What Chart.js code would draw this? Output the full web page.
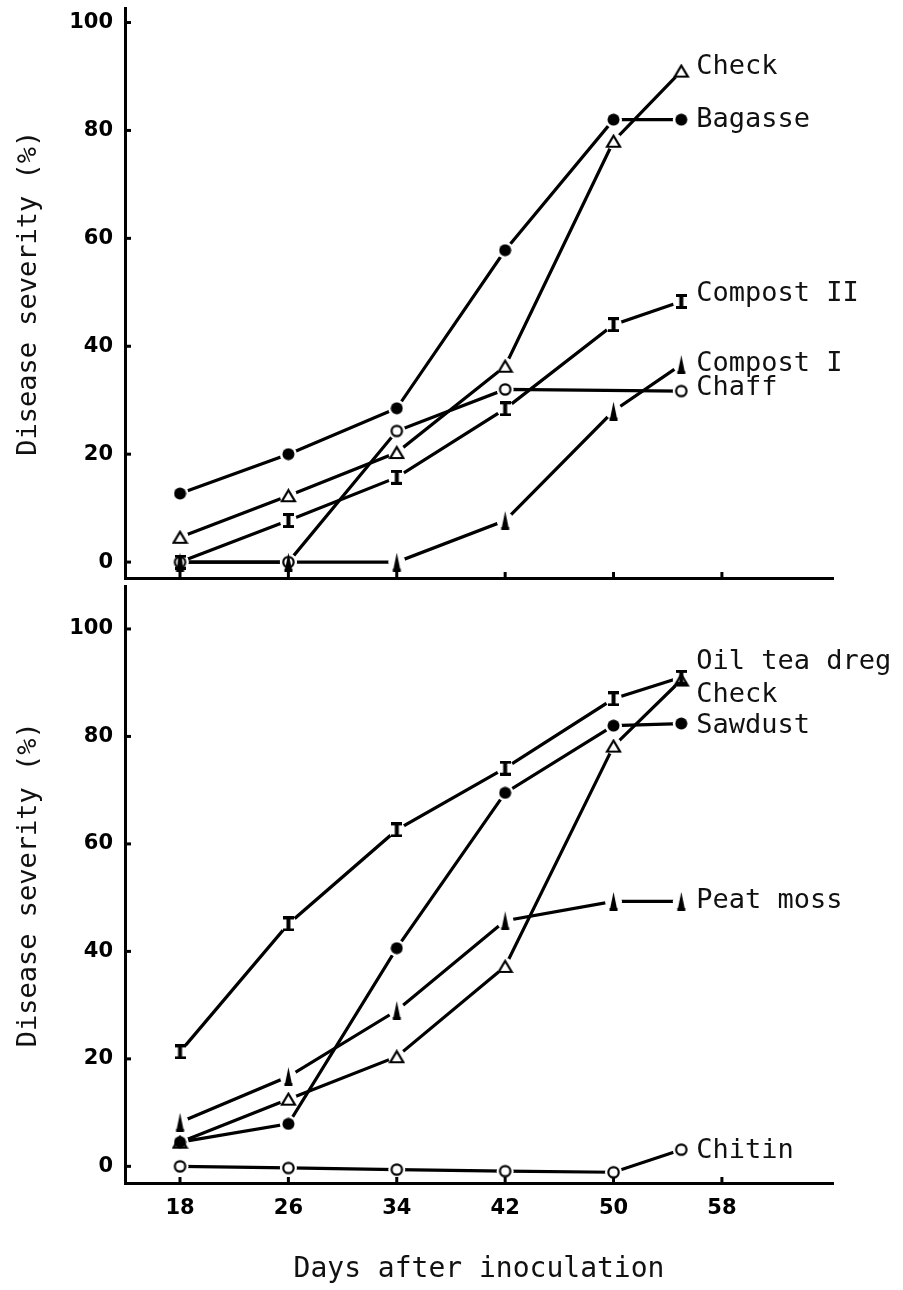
<!DOCTYPE html>
<html>
<head>
<meta charset="utf-8">
<script src="https://cdn.jsdelivr.net/npm/chart.js@4.4.1/dist/chart.umd.min.js"></script>
<style>
  html, body { margin: 0; padding: 0; background: #fff; }
  #wrap { position: relative; width: 903px; height: 1290px; }
  #topChart { position: absolute; left: 0; top: 0; }
  #bottomChart { position: absolute; left: 0; top: 578px; }
</style>
</head>
<body>
<div id="wrap">
  <canvas id="topChart" width="903" height="600"></canvas>
  <canvas id="bottomChart" width="903" height="712"></canvas>
</div>
<script>
// Days after inoculation (sampling days) and axis ticks
const days = [18, 26, 34, 42, 50, 55];
const dayTicks = [18, 26, 34, 42, 50, 58];
const severityTicks = [0, 20, 40, 60, 80, 100];

// Upper panel: disease severity (%)
const topNames = ['Check', 'Bagasse', 'Compost II', 'Compost I', 'Chaff'];
const topCheck = [4.6, 12.3, 20.3, 36.3, 78, 91];
const bagasse = [12.7, 20, 28.5, 57.8, 82, 82];
const compostII = [0, 7.7, 15.7, 28.4, 44, 48.3];
const compostI = [0, 0, 0, 7.7, 28, 36.6];
const chaff = [0, 0, 24.3, 32, null, 31.7];

// Lower panel: disease severity (%)
const bottomNames = ['Oil tea dreg', 'Check', 'Sawdust', 'Peat moss', 'Chitin'];
const oilTeaDreg = [21.3, 45.1, 62.6, 74.1, 87, 91];
const bottomCheck = [4.5, 12.5, 20.4, 37.2, 78.2, 90.5];
const sawdust = [4.5, 7.9, 40.6, 69.5, 82, 82.4];
const peatMoss = [8.2, 16.7, 29, 45.7, 49.3, 49.3];
const chitin = [0, -0.3, -0.6, -0.9, -1.1, 3.1];

// marker glyphs drawn once on small canvases
function makeMarker(kind) {
  const c = document.createElement('canvas');
  const size = { dot: [13, 13], ring: [15, 15], tri: [17, 15], ibeam: [11, 15], spike: [11, 19] }[kind];
  c.width = size[0];
  c.height = size[1];
  const g = c.getContext('2d');
  g.fillStyle = '#000';
  g.strokeStyle = '#000';
  if (kind === 'dot') {
    g.beginPath(); g.arc(6.5, 6.5, 6, 0, Math.PI * 2); g.fill();
  } else if (kind === 'ring') {
    g.lineWidth = 2.2;
    g.beginPath(); g.arc(7.5, 7.5, 5.2, 0, Math.PI * 2); g.stroke();
  } else if (kind === 'tri') {
    g.lineWidth = 2.2;
    g.beginPath(); g.moveTo(8.5, 2); g.lineTo(15, 13); g.lineTo(2, 13); g.closePath(); g.stroke();
  } else if (kind === 'ibeam') {
    g.fillRect(0, 0, 11, 3); g.fillRect(0, 12, 11, 3); g.fillRect(3.5, 0, 4, 15);
  } else if (kind === 'spike') {
    g.beginPath(); g.moveTo(5.5, 0); g.lineTo(9, 17); g.lineTo(2, 17); g.closePath(); g.fill();
    g.fillRect(1.5, 16, 8, 3);
  }
  return c;
}
const markers = {};
['dot', 'ring', 'tri', 'ibeam', 'spike'].forEach(k => { markers[k] = makeMarker(k); });

// series -> line, white halo (gap around marks), marker
function buildDatasets(names, valueLists, markerKinds, nudges) {
  const out = [];
  names.forEach((name, i) => {
    const pts = days.map((d, j) => ({ x: d, y: valueLists[i][j] })).filter(p => p.y !== null);
    out.push({
      label: name, data: pts, borderColor: '#000', borderWidth: 3.2,
      pointRadius: 0, tension: 0, fill: false, order: 3,
      endLabel: name, labelNudge: nudges[i],
    });
    out.push({
      data: pts, showLine: false, pointStyle: 'circle', pointRadius: 8.5,
      pointBackgroundColor: '#fff', pointBorderWidth: 0, order: 2,
    });
    out.push({
      data: pts, showLine: false, pointStyle: markers[markerKinds[i]],
      pointRadius: 5, order: 1,
    });
  });
  return out;
}

// inward tick stubs + labels at line ends
const decorPlugin = {
  id: 'decor',
  afterDatasetsDraw(chart) {
    const ctx = chart.ctx;
    const xs = chart.scales.x, ys = chart.scales.y;
    ctx.save();
    ctx.strokeStyle = '#000';
    ctx.lineWidth = 3;
    xs.ticks.forEach(t => {
      const px = xs.getPixelForValue(t.value);
      ctx.beginPath(); ctx.moveTo(px, xs.top); ctx.lineTo(px, xs.top - 6); ctx.stroke();
    });
    ys.ticks.forEach(t => {
      const py = ys.getPixelForValue(t.value);
      ctx.beginPath(); ctx.moveTo(ys.right, py); ctx.lineTo(ys.right + 6, py); ctx.stroke();
    });
    ctx.font = '27px "DejaVu Sans Mono"';
    ctx.fillStyle = '#111';
    ctx.textAlign = 'left';
    ctx.textBaseline = 'middle';
    chart.data.datasets.forEach((ds, i) => {
      if (!ds.endLabel) return;
      const els = chart.getDatasetMeta(i).data;
      const last = els[els.length - 1];
      ctx.fillText(ds.endLabel, last.x + 15, last.y + ds.labelNudge);
    });
    ctx.restore();
  },
};

function makePanel(canvasId, datasets, cfg) {
  const canvas = document.getElementById(canvasId);
  return new Chart(canvas.getContext('2d'), {
    type: 'line',
    data: { datasets },
    options: {
      responsive: false,
      animation: false,
      layout: { padding: { top: cfg.padTop, right: 70, bottom: 0, left: 0 } },
      plugins: { legend: { display: false }, tooltip: { enabled: false } },
      scales: {
        x: {
          type: 'linear', min: 13.94, max: 66.2,
          afterBuildTicks: s => { s.ticks = dayTicks.map(v => ({ value: v })); },
          afterFit: s => { s.height = cfg.xHeight; s.paddingLeft = 0; s.paddingRight = 0; },
          grid: { drawOnChartArea: false, drawTicks: false },
          border: { color: '#000', width: 3 },
          ticks: {
            display: cfg.showX, padding: 13, color: '#000',
            font: { family: 'DejaVu Sans', weight: 'bold', size: 21 },
          },
          title: {
            display: cfg.showX, text: 'Days after inoculation', color: '#111',
            font: { family: 'DejaVu Sans Mono', size: 28 }, padding: { bottom: 3 },
          },
        },
        y: {
          type: 'linear', min: cfg.yMin, max: cfg.yMax,
          afterBuildTicks: s => { s.ticks = severityTicks.map(v => ({ value: v })); },
          afterFit: s => { s.width = 125; s.paddingTop = 0; s.paddingBottom = 0; },
          grid: { drawOnChartArea: false, drawTicks: false },
          border: { color: '#000', width: 3 },
          ticks: {
            padding: 12, color: '#000',
            font: { family: 'DejaVu Sans', weight: 'bold', size: 21 },
          },
          title: {
            display: true, text: 'Disease severity (%)', color: '#111',
            font: { family: 'DejaVu Sans Mono', size: 27 }, padding: { top: 13 },
          },
        },
      },
    },
    plugins: [decorPlugin],
  });
}

makePanel('topChart',
  buildDatasets(topNames, [topCheck, bagasse, compostII, compostI, chaff],
    ['tri', 'dot', 'ibeam', 'spike', 'ring'], [-4, 0, -7, -1, -3]),
  { padTop: 5, xHeight: 22, showX: false, yMin: -2.95, yMax: 102.6 });

makePanel('bottomChart',
  buildDatasets(bottomNames, [oilTeaDreg, bottomCheck, sawdust, peatMoss, chitin],
    ['ibeam', 'tri', 'dot', 'spike', 'ring'], [-15, 15, 2, 0, 1]),
  { padTop: 0, xHeight: 107, showX: true, yMin: -3.1, yMax: 107.9 });
</script>
</body>
</html>
